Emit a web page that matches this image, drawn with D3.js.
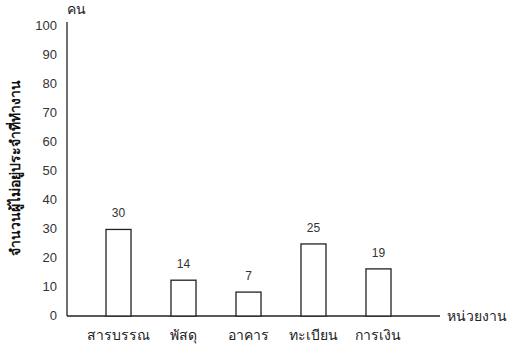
<!DOCTYPE html>
<meta charset="utf-8">
<script src="https://d3js.org/d3.v7.min.js"></script>
<style>
body { margin: 0; background: #fff; }
</style>
<svg class="chart" width="513" height="350"></svg>
<script>

var units = ["สารบรรณ", "พัสดุ", "อาคาร", "ทะเบียน", "การเงิน"];
var labels = [30, 14, 7, 25, 19];
var heights = [29.5, 12, 7.9, 24.5, 15.9];
var ticks = [0, 10, 20, 30, 40, 50, 60, 70, 80, 90, 100];

var svg = d3.select(".chart");
var left = 67, bottom = 315;

var y = d3.scaleLinear().domain([0, 100]).range([bottom, 25]);
var x = d3.scaleBand().domain(units)
    .range([left, 430]).paddingInner(0.615).paddingOuter(0.6);

// y axis
svg.append("line").attr("x1", left).attr("x2", left).attr("y1", 22).attr("y2", bottom + 1)
    .attr("stroke", "#222").attr("stroke-width", 1.3);
svg.append("line").attr("x1", left).attr("x2", 440).attr("y1", bottom + 1).attr("y2", bottom + 1)
    .attr("stroke", "#222").attr("stroke-width", 1.3);

svg.selectAll(".tick").data(ticks).enter().append("text")
    .attr("x", 57).attr("y", function(d) { return y(d) + 4.5; })
    .attr("text-anchor", "end")
    .attr("font-family", "Liberation Sans, Arial, sans-serif")
    .attr("font-size", "13px").attr("fill", "#333")
    .text(function(d) { return d; });

svg.selectAll(".bar").data(units).enter().append("rect")
    .attr("x", function(d) { return x(d); })
    .attr("y", function(d, i) { return y(heights[i]); })
    .attr("width", x.bandwidth())
    .attr("height", function(d, i) { return bottom + 1 - y(heights[i]); })
    .attr("fill", "white").attr("stroke", "#222").attr("stroke-width", 1.3);

svg.selectAll(".val").data(units).enter().append("text")
    .attr("x", function(d) { return x(d) + x.bandwidth() / 2; })
    .attr("y", function(d, i) { return y(heights[i]) - 12; })
    .attr("text-anchor", "middle")
    .attr("font-family", "Liberation Sans, Arial, sans-serif")
    .attr("font-size", "12px").attr("fill", "#333")
    .text(function(d, i) { return labels[i]; });

svg.selectAll(".cat").data(units).enter().append("text")
    .attr("x", function(d) { return x(d) + x.bandwidth() / 2; })
    .attr("y", 340)
    .attr("text-anchor", "middle")
    .attr("font-family", "Noto Sans, sans-serif")
    .attr("font-size", "14px").attr("fill", "#222")
    .text(function(d) { return d; });

svg.append("text").attr("x", left).attr("y", 14)
    .attr("font-size", "14px").attr("fill", "#222")
    .attr("font-family", "Noto Sans, sans-serif")
    .text("คน");

svg.append("text").attr("x", 447).attr("y", 321)
    .attr("font-size", "14px").attr("fill", "#222")
    .attr("font-family", "Noto Sans, sans-serif")
    .text("หน่วยงาน");

svg.append("text")
    .attr("transform", "translate(20,168) rotate(-90)")
    .attr("text-anchor", "middle")
    .attr("font-size", "14px").attr("font-weight", "bold").attr("fill", "#111")
    .attr("font-family", "Noto Sans, sans-serif")
    .text("จำนวนผู้ไม่อยู่ประจำที่ทำงาน");

</script>
